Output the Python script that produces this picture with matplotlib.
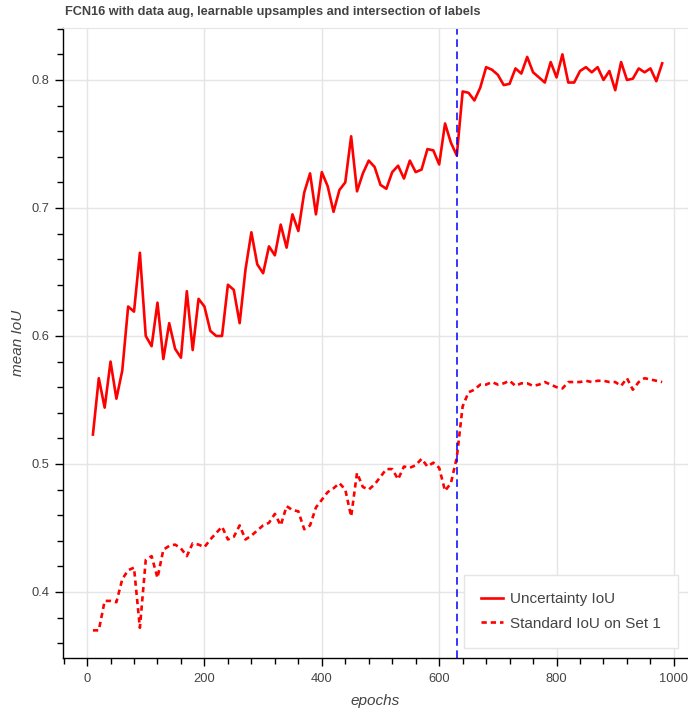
import numpy as np
import matplotlib
matplotlib.use("Agg")
import matplotlib.pyplot as plt
from matplotlib.ticker import MultipleLocator

plt.rcParams['font.family'] = ['Liberation Sans', 'DejaVu Sans']

# epochs at which the IoU was evaluated
epochs = list(range(10, 990, 10))

uncertainty_iou = [
    0.523, 0.567, 0.544, 0.580, 0.551, 0.573, 0.623, 0.619, 0.665, 0.600,
    0.592, 0.626, 0.582, 0.610, 0.590, 0.583, 0.635, 0.589, 0.629, 0.623,
    0.604, 0.600, 0.600, 0.640, 0.636, 0.610, 0.652, 0.681, 0.656, 0.649,
    0.670, 0.663, 0.687, 0.669, 0.695, 0.682, 0.712, 0.727, 0.695, 0.728,
    0.717, 0.697, 0.714, 0.720, 0.756, 0.713, 0.727, 0.737, 0.732, 0.718,
    0.715, 0.728, 0.733, 0.723, 0.737, 0.728, 0.730, 0.746, 0.745, 0.734,
    0.766, 0.751, 0.741, 0.791, 0.790, 0.784, 0.794, 0.810, 0.808, 0.804,
    0.796, 0.797, 0.809, 0.805, 0.818, 0.806, 0.802, 0.798, 0.814, 0.802,
    0.820, 0.798, 0.798, 0.807, 0.810, 0.806, 0.810, 0.800, 0.807, 0.792,
    0.814, 0.800, 0.801, 0.809, 0.806, 0.809, 0.799, 0.813,
]

standard_iou = [
    0.370, 0.370, 0.393, 0.393, 0.392, 0.410, 0.417, 0.419, 0.372, 0.425,
    0.428, 0.411, 0.433, 0.436, 0.437, 0.434, 0.428, 0.438, 0.437, 0.435,
    0.441, 0.446, 0.451, 0.441, 0.443, 0.452, 0.441, 0.444, 0.448, 0.452,
    0.454, 0.461, 0.452, 0.467, 0.464, 0.463, 0.449, 0.452, 0.466, 0.472,
    0.478, 0.481, 0.485, 0.480, 0.459, 0.493, 0.482, 0.480, 0.484, 0.490,
    0.496, 0.496, 0.488, 0.498, 0.497, 0.499, 0.504, 0.498, 0.501, 0.497,
    0.479, 0.485, 0.505, 0.545, 0.556, 0.558, 0.562, 0.562, 0.564, 0.562,
    0.563, 0.565, 0.561, 0.563, 0.563, 0.561, 0.562, 0.564, 0.562, 0.560,
    0.559, 0.564, 0.564, 0.564, 0.565, 0.564, 0.565, 0.565, 0.564, 0.564,
    0.561, 0.567, 0.558, 0.564, 0.567, 0.566, 0.565, 0.564,
]

switch_epoch = 630

fig = plt.figure(figsize=(6.88, 7.13), dpi=100)
ax = fig.add_axes([63 / 688, 55 / 713, 625 / 688, 630 / 713])

ax.plot(epochs, uncertainty_iou, color='red', lw=1.9, label='Uncertainty IoU')
ax.plot(epochs, standard_iou, color='red', lw=1.9, dashes=(2.0, 1.5),
        label='Standard IoU on Set 1')
ax.axvline(switch_epoch, color='blue', lw=1.1, dashes=(5, 3))

ax.set_xlim(-41, 1024)
ax.set_ylim(0.3484, 0.8406)

ax.xaxis.set_major_locator(MultipleLocator(200))
ax.xaxis.set_minor_locator(MultipleLocator(40))
ax.yaxis.set_major_locator(MultipleLocator(0.1))
ax.yaxis.set_minor_locator(MultipleLocator(0.02))
ax.tick_params(which='major', length=6, width=1, color='black',
               labelcolor='#444444', labelsize=9.3)
ax.tick_params(which='minor', length=4, width=1, color='black')
ax.tick_params(axis='x', pad=5)

ax.grid(True, which='major', color='#e5e5e5', lw=1)
ax.set_axisbelow(True)
for side in ['top', 'right']:
    ax.spines[side].set_color('#e5e5e5')
for side in ['left', 'bottom']:
    ax.spines[side].set_color('black')
    ax.spines[side].set_linewidth(1)

ax.set_xlabel('epochs', style='italic', color='#444444', fontsize=11, labelpad=6)
ax.set_ylabel('mean IoU', style='italic', color='#444444', fontsize=11, labelpad=5)

fig.text(65 / 688, 1 - 12 / 713, 'FCN16 with data aug, learnable upsamples and intersection of labels',
         fontsize=9.2, fontweight='bold', color='#444444', va='center', ha='left')

leg = ax.legend(loc='lower right', fontsize=11, frameon=True, fancybox=False,
                edgecolor='#e5e5e5', framealpha=1, borderaxespad=0.68,
                handlelength=1.45, handletextpad=0.45, labelspacing=0.7,
                borderpad=1.1)
for t in leg.get_texts():
    t.set_color('#444444')

fig.savefig('out.png', dpi=100)
